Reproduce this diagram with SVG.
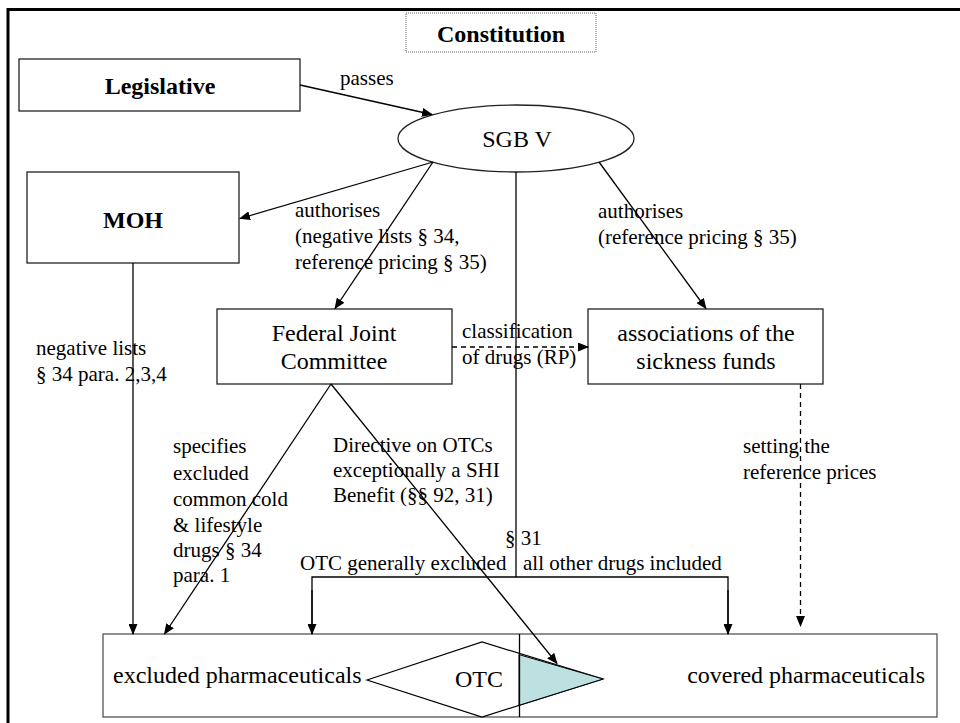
<svg xmlns="http://www.w3.org/2000/svg" width="960" height="723" viewBox="0 0 960 723">
<style>
text{font-family:'Liberation Serif','Times New Roman','DejaVu Serif',serif;fill:#000}
.n{font-size:24px}
.b{font-size:24px;font-weight:bold}
.l{font-size:21px}
.box{fill:#fff;stroke:#222;stroke-width:1.3}
.ln{fill:none;stroke:#000;stroke-width:1.3}
.dash{fill:none;stroke:#000;stroke-width:1.3;stroke-dasharray:5,4}
</style>
<defs>
<marker id="a" markerWidth="11" markerHeight="9" refX="10" refY="4.5" orient="auto" markerUnits="userSpaceOnUse">
<path d="M0,0 L11,4.5 L0,9 Z" fill="#000"/>
</marker>
</defs>
<rect width="960" height="723" fill="#fff"/>
<path d="M8,723 V9.5 H960" fill="none" stroke="#000" stroke-width="3"/>

<g font-family="Liberation Serif, Times New Roman, serif">
<g id="constitution">
<rect x="406" y="13" width="190" height="39" fill="#fff" stroke="#666" stroke-width="1" stroke-dasharray="1,1"/>
<text class="b" x="501" y="42" text-anchor="middle">Constitution</text>
</g>

<g id="legislative">
<rect class="box" x="19" y="59" width="281" height="52" stroke="#555"/>
<text class="b" x="160" y="94" text-anchor="middle">Legislative</text>
</g>

<g id="sgbv">
<ellipse class="box" cx="516" cy="138.5" rx="118" ry="33.5"/>
<text class="n" x="517" y="147" text-anchor="middle">SGB V</text>
</g>

<g id="moh">
<rect class="box" x="27" y="172" width="212" height="91"/>
<text class="b" x="133" y="228" text-anchor="middle">MOH</text>
</g>

<g id="fjc">
<rect class="box" x="217" y="309" width="235" height="75"/>
<text class="n" x="334" y="341" text-anchor="middle">Federal Joint</text>
<text class="n" x="334" y="369" text-anchor="middle">Committee</text>
</g>

<g id="assoc">
<rect class="box" x="588" y="309" width="235" height="75"/>
<text class="n" x="706" y="341" text-anchor="middle">associations of the</text>
<text class="n" x="706" y="369" text-anchor="middle">sickness funds</text>
</g>

<g id="pharma">
<rect x="103" y="634" width="834" height="83" fill="#fff" stroke="#555" stroke-width="1.3"/>
<polygon points="367,680 482,642 603,679 482,717" fill="#fff" stroke="#000" stroke-width="1.2"/>
<polygon points="519,654.6 603,679 519,705.3" fill="#bde0e0" stroke="#000" stroke-width="1"/>
<line x1="519.5" y1="634" x2="519.5" y2="717" stroke="#000" stroke-width="1.3"/>
<text class="n" x="113" y="683">excluded pharmaceuticals</text>
<text class="n" x="925" y="683" text-anchor="end">covered pharmaceuticals</text>
<text class="n" x="479" y="687" text-anchor="middle">OTC</text>
</g>

<g id="connectors">
<line class="ln" x1="300" y1="85" x2="432" y2="114.5" marker-end="url(#a)"/>
<line class="ln" x1="433" y1="162" x2="240" y2="218.5" marker-end="url(#a)"/>
<line class="ln" x1="433" y1="162" x2="335" y2="308.5" marker-end="url(#a)"/>
<line class="ln" x1="599" y1="162" x2="706" y2="308.5" marker-end="url(#a)"/>
<line class="ln" x1="516" y1="172" x2="516" y2="577"/>
<path class="ln" d="M312,634 V577 H728 V634"/>
<line class="ln" x1="312" y1="590" x2="312" y2="634" marker-end="url(#a)"/>
<line class="ln" x1="728" y1="590" x2="728" y2="634" marker-end="url(#a)"/>
<line class="ln" x1="133" y1="263" x2="133" y2="634" marker-end="url(#a)"/>
<line class="ln" x1="331" y1="384" x2="164.5" y2="634" marker-end="url(#a)"/>
<line class="ln" x1="331" y1="384" x2="557" y2="663.5" marker-end="url(#a)"/>
<line class="dash" x1="452" y1="347" x2="588" y2="347" marker-end="url(#a)"/>
<line class="dash" x1="800.5" y1="384" x2="800.5" y2="626" marker-end="url(#a)"/>
</g>

<g id="labels">
<text class="l" x="340" y="85">passes</text>
<text class="l" x="295" y="217">authorises</text>
<text class="l" x="295" y="243">(negative lists § 34,</text>
<text class="l" x="295" y="269">reference pricing § 35)</text>
<text class="l" x="598" y="218">authorises</text>
<text class="l" x="598" y="244">(reference pricing § 35)</text>
<text class="l" x="36" y="355">negative lists</text>
<text class="l" x="36" y="381">§ 34 para. 2,3,4</text>
<text class="l" x="462" y="338">classification</text>
<text class="l" x="462" y="364">of drugs (RP)</text>
<text class="l" x="743" y="453">setting the</text>
<text class="l" x="743" y="479">reference prices</text>
<text class="l" x="173" y="453">specifies</text>
<text class="l" x="173" y="479.5">excluded</text>
<text class="l" x="173" y="506">common cold</text>
<text class="l" x="173" y="532">&amp; lifestyle</text>
<text class="l" x="173" y="557">drugs § 34</text>
<text class="l" x="173" y="582">para. 1</text>
<text class="l" x="333" y="452">Directive on OTCs</text>
<text class="l" x="333" y="477">exceptionally a SHI</text>
<text class="l" x="333" y="502">Benefit (§§ 92, 31)</text>
<text class="l" x="505" y="545">§ 31</text>
<text class="l" x="300" y="570">OTC generally excluded</text>
<text class="l" x="523" y="570">all other drugs included</text>
</g>
</g>
</svg>
